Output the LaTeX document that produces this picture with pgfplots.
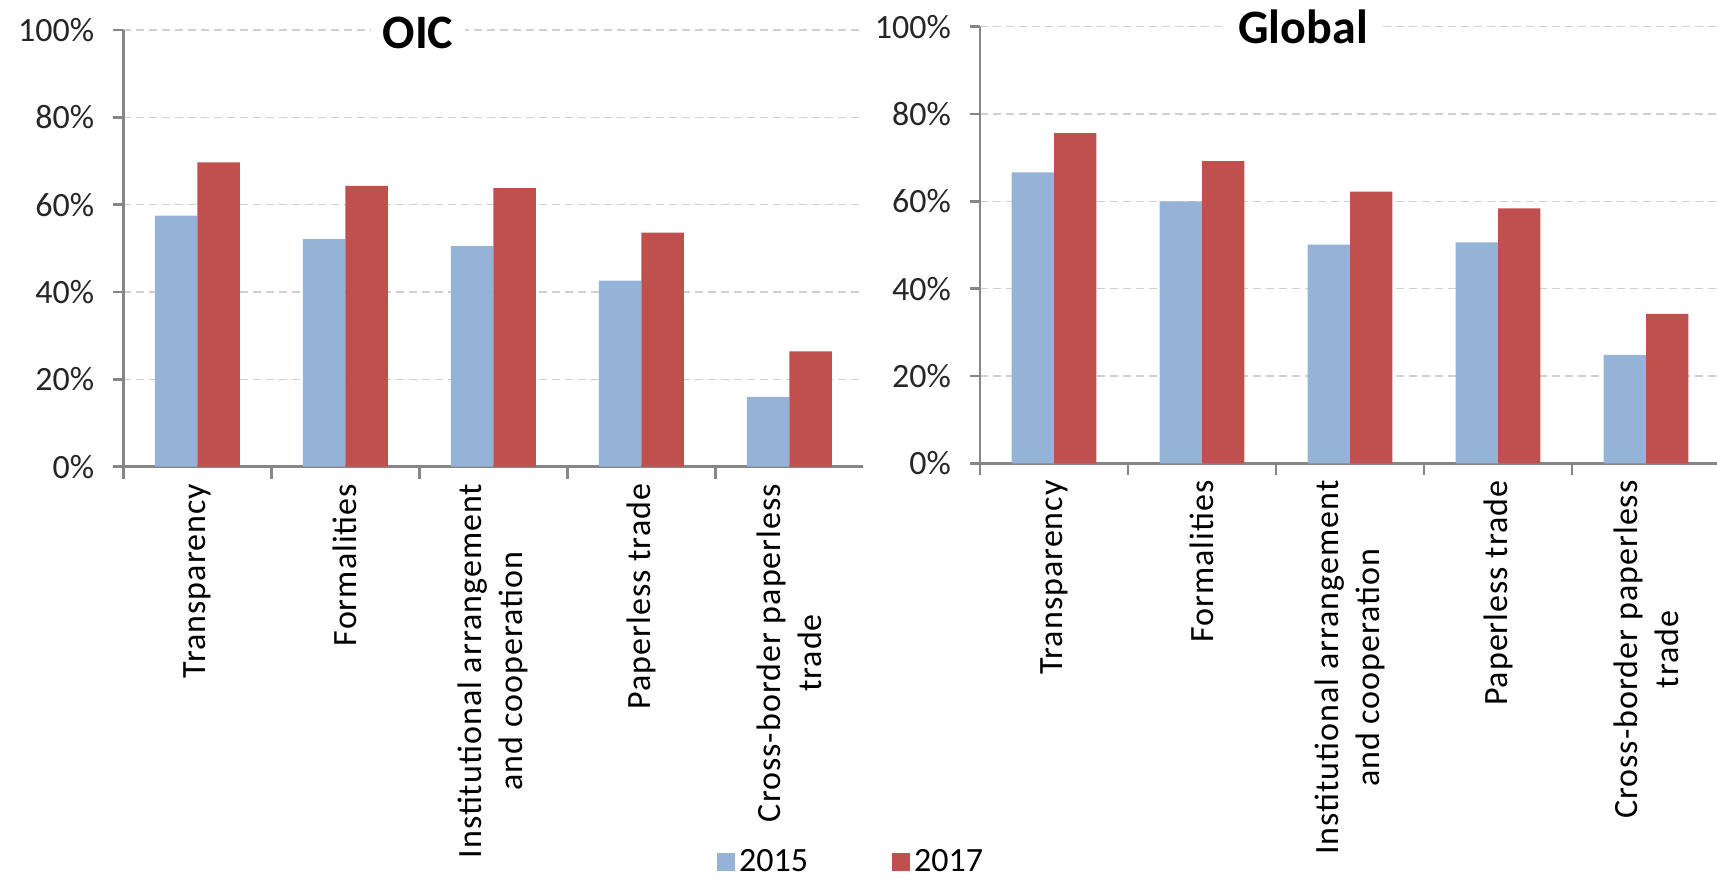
\documentclass[border=0pt]{standalone}
\usepackage{fontspec}
\setmainfont{Carlito}
\newfontfamily\catfont[LetterSpace=3]{Carlito}
\usepackage{pgfplots}
\pgfplotsset{compat=1.18}

\definecolor{c2015}{HTML}{95B3D7}
\definecolor{c2017}{HTML}{C0504D}
\definecolor{axgray}{HTML}{868686}
\definecolor{gridgray}{HTML}{D0D0D0}

\pgfplotsset{
  panel/.style={
    scale only axis,
    width=370pt, height=218.35pt,
    anchor=south west,
    ybar=0pt, bar width=0.287,
    xmin=-0.5, xmax=4.5,
    ymin=0, ymax=100,
    axis lines*=left,
    axis line style={axgray, line width=1.3pt},
    ytick={0,20,...,100},
    yticklabel={\pgfmathprintnumber{\tick}\%},
    ymajorgrids,
    grid style={gridgray, line width=0.6pt, dash pattern=on 4pt off 2.5pt},
    xtick={0,...,4},
    xticklabels={Transparency, Formalities, {Institutional arrangement\\and cooperation}, Paperless trade, {Cross-border paperless\\trade}},
    minor xtick={-0.5,0.5,1.5,2.5,3.5},
    major x tick style={draw=none},
    minor x tick style={axgray, line width=1.3pt},
    ytick style={axgray, line width=1.3pt},
    tick align=outside,
    major tick length=5pt, minor tick length=6pt,
    /pgf/number format/assume math mode=true,
    yticklabel style={font=\fontsize{17}{20}\selectfont, text=black!85, xshift=-6pt},
    xticklabel style={font=\catfont\fontsize{17}{20.5}\selectfont, text=black, rotate=90, anchor=east, align=center},
  }
}

\begin{document}
\begin{tikzpicture}
\path[use as bounding box] (0,0) rectangle (858.5pt,440.5pt);
\clip (0,0) rectangle (858.5pt,440.5pt);

% OIC
\begin{axis}[panel, at={(61.65pt,207.15pt)},
  legend style={at={(rel axis cs:0.802,-0.905)}, anchor=west, draw=none,
    inner sep=0pt, font=\fontsize{17}{20}\selectfont, legend columns=2,
    /tikz/every even column/.append style={column sep=40pt}},
  legend image code/.code={\fill[#1] (0pt,-4.5pt) rectangle (9pt,4.5pt);},
]
\addplot[fill=c2015, draw=none] coordinates {(0,57.5) (1,52.1) (2,50.5) (3,42.6) (4,16.0)};
\addplot[fill=c2017, draw=none] coordinates {(0,69.7) (1,64.3) (2,63.8) (3,53.6) (4,26.4)};
\legend{2015, 2017}
\end{axis}

% Global
\begin{axis}[panel, at={(490pt,208.85pt)}]
\addplot[fill=c2015, draw=none] coordinates {(0,66.6) (1,60.0) (2,50.1) (3,50.6) (4,24.8)};
\addplot[fill=c2017, draw=none] coordinates {(0,75.6) (1,69.2) (2,62.2) (3,58.4) (4,34.2)};
\end{axis}

\node[fill=white, inner xsep=6pt, inner ysep=1pt, anchor=base, font=\fontsize{24}{28}\selectfont\bfseries] at (209pt,416pt) {OIC};
\node[fill=white, inner xsep=6pt, inner ysep=1pt, anchor=base, font=\fontsize{24}{28}\selectfont\bfseries] at (651.5pt,418.6pt) {Global};
\end{tikzpicture}
\end{document}
